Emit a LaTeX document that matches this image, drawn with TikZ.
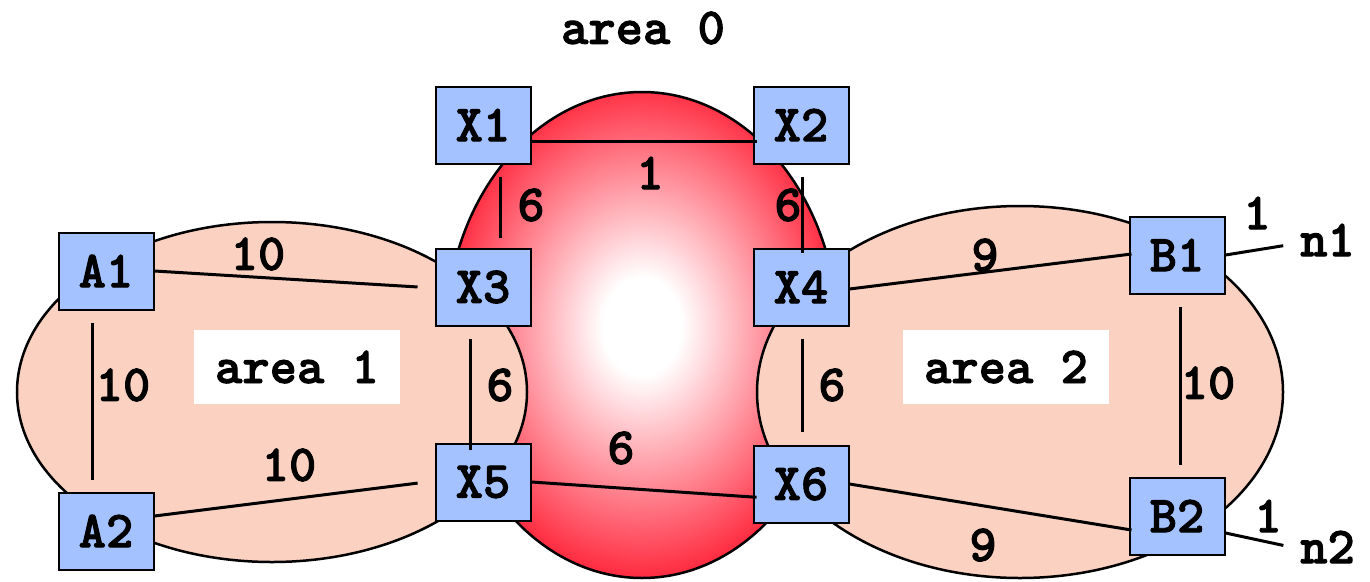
\documentclass[tikz,border=0pt]{standalone}
\usepackage{fontspec}
\newfontfamily\routerfont{lmmonolt10-bold}[Extension=.otf, FakeBold=1.8]
\usepackage{tikz}
\usetikzlibrary{positioning,calc}
\definecolor{boxblue}{HTML}{A3C2FF}
\definecolor{salmon}{HTML}{FBD1C1}
\definecolor{hotred}{HTML}{FF1028}
\pgfdeclareradialshading{areazero}{\pgfpoint{0bp}{1bp}}{color(0bp)=(white); color(5bp)=(white); color(28bp)=(hotred); color(50bp)=(hotred)}

\tikzset{
  router/.style={draw=black, line width=2pt, fill=boxblue, minimum width=95pt, minimum height=77pt, inner sep=0pt},
  area/.style={draw=black, line width=2.5pt, fill=salmon},
  link/.style={line width=3pt, black},
  cost/.style={inner sep=0pt},
  areaname/.style={fill=white, minimum width=206pt, minimum height=74pt, inner sep=0pt}
}

\begin{document}
\begin{tikzpicture}[x=1pt, y=-1pt, font=\routerfont\fontsize{52}{56}\selectfont]
    \useasboundingbox (0,0) rectangle (1370,581);
    % areas
    \path[shading=areazero, draw=black, line width=2.5pt] (642,335) ellipse [x radius=196pt, y radius=243pt];
    \draw[area] (272,392) ellipse [x radius=255pt, y radius=170pt];
    \draw[area] (1020,392) ellipse [x radius=263pt, y radius=186pt];
    \node[areaname] (area1) at (297,367) {area 1};
    \node[areaname] (area2) at (1006,367) {area 2};
    \node[cost] (area0) at (643,28) {area 0};

    % routers
    \node[router] (X1) at (483,125) {X1};
    \node[router] (X2) at (801,125) {X2};
    \node[router] (X3) at (483,287) {X3};
    \node[router] (X4) at (801,287) {X4};
    \node[router] (X5) at (483,482) {X5};
    \node[router] (X6) at (801,484) {X6};
    \node[router] (A1) at (106,271) {A1};
    \node[router] (A2) at (106,531) {A2};
    \node[router] (B1) at (1177,255) {B1};
    \node[router] (B2) at (1177,516) {B2};
    \node[cost, anchor=west] (n1) at (1300,240) {n1};
    \node[cost, anchor=west] (n2) at (1300,547) {n2};

    % links
    \draw[link] ([yshift=-16pt]X1.east) -- ([xshift=4pt, yshift=-16pt]X2.west);
    \draw[link, shorten <=12pt, shorten >=10pt] ([xshift=17pt]X1.south) -- ([xshift=17pt]X3.north);
    \draw[link, shorten <=12pt, shorten >=-5pt] ([xshift=1pt]X2.south) -- ([xshift=1pt]X4.north);
    \draw[link, shorten <=12pt, shorten >=-7pt] ([xshift=-13pt]X3.south) -- ([xshift=-13pt]X5.north);
    \draw[link, shorten <=12pt, shorten >=13pt] ([xshift=1pt]X4.south) -- ([xshift=1pt]X6.north);
    \draw[link, shorten >=17pt] (A1.east) -- ([yshift=-1pt]X3.west);
    \draw[link, shorten <=12pt, shorten >=12pt] ([xshift=-14pt]A1.south) -- ([xshift=-14pt]A2.north);
    \draw[link, shorten >=17pt] ([yshift=15pt]A2.east) -- ([yshift=1pt]X5.west);
    \draw[link, shorten >=-4pt] (X5.east) -- ([yshift=-13pt]X6.west);
    \draw[link] ([yshift=-2pt]X4.east) -- ([xshift=3pt, yshift=1pt]B1.west);
    \draw[link] (X6.east) -- ([xshift=3pt, yshift=-14pt]B2.west);
    \draw[link, shorten <=12pt, shorten >=12pt] ([xshift=3pt]B1.south) -- ([xshift=3pt]B2.north);
    \draw[link, shorten >=17pt] (B1.east) -- ([yshift=-3pt]n1.west);
    \draw[link, shorten >=17pt] ([yshift=-17pt]B2.east) -- ([yshift=-2pt]n2.west);

    % costs
    \node[cost] (c12) at (650,173) {1};
    \node[cost] (c13) at (531,205) {6};
    \node[cost] (c24) at (788,205) {6};
    \node[cost] (cA13) at (258,254) {10};
    \node[cost] (cA12) at (123,385) {10};
    \node[cost] (c35) at (500,385) {6};
    \node[cost] (cA25) at (289,465) {10};
    \node[cost] (c56) at (621,448) {6};
    \node[cost] (c4B1) at (985,255) {9};
    \node[cost] (c46) at (832,385) {6};
    \node[cost] (cB12) at (1208,383) {10};
    \node[cost] (c6B2) at (983,545) {9};
    \node[cost] (cn1) at (1257,213) {1};
    \node[cost] (cn2) at (1268,516) {1};
  \end{tikzpicture}
\end{document}
